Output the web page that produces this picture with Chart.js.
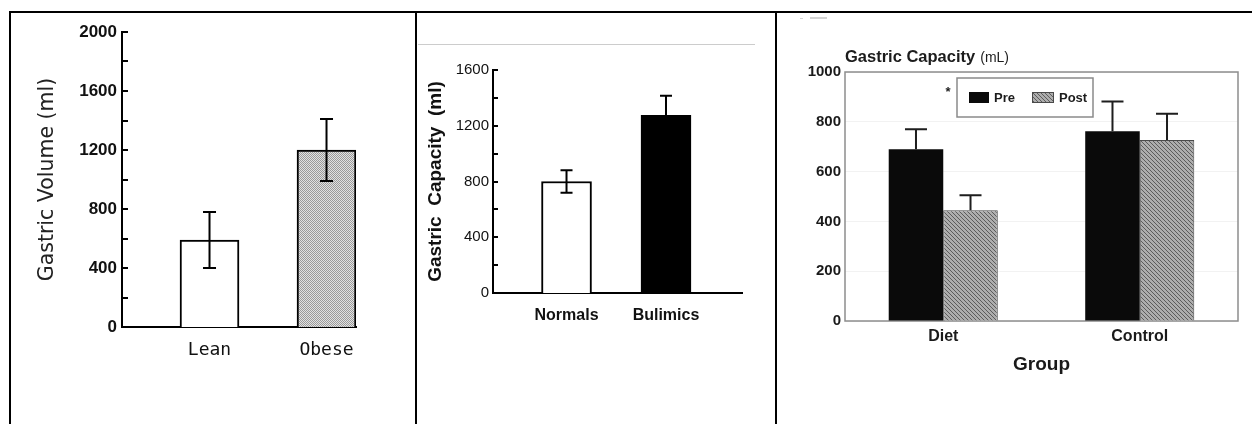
<!DOCTYPE html>
<html>
<head>
<meta charset="utf-8">
<title>Gastric volume and capacity</title>
<script src="https://cdn.jsdelivr.net/npm/chart.js@4.4.1/dist/chart.umd.min.js"></script>
<style>
  html, body { margin: 0; padding: 0; background: #fff; }
  #page { position: relative; width: 1252px; height: 424px; overflow: hidden; background: #fff; }
  canvas { position: absolute; }
  .rule { position: absolute; background: #000; }
  .faint { position: absolute; background: #d4d4d4; }
</style>
</head>
<body>
<div id="page">
  <canvas id="volumeChart" width="404" height="411" style="left:11px;top:13px;width:404px;height:411px"></canvas>
  <canvas id="capacityChart" width="358" height="411" style="left:417px;top:13px;width:358px;height:411px"></canvas>
  <canvas id="dietChart" width="475" height="411" style="left:777px;top:13px;width:475px;height:411px"></canvas>

  <!-- table frame around the three panels -->
  <div class="rule" style="left:9px;top:11px;width:1243px;height:2px"></div>
  <div class="rule" style="left:9px;top:11px;width:2px;height:413px"></div>
  <div class="rule" style="left:415px;top:11px;width:2px;height:413px"></div>
  <div class="rule" style="left:775px;top:11px;width:2px;height:413px"></div>
  <div class="faint" style="left:418px;top:44px;width:337px;height:1px;background:#cccccc"></div>
  <div class="faint" style="left:800px;top:18px;width:3px;height:1px"></div>
  <div class="faint" style="left:810px;top:17px;width:17px;height:2px"></div>
</div>

<script>
// ---- values ----
const volumeGroups = ['Lean', 'Obese'];
const volumeMeans = [590, 1200];
const volumeErrors = [190, 210];
const volumeTickLabels = [0, 400, 800, 1200, 1600, 2000];

const capacityGroups = ['Normals', 'Bulimics'];
const capacityMeans = [800, 1275];
const capacityErrors = [80, 140];
const capacityTickLabels = [0, 400, 800, 1200, 1600];

const dietGroups = ['Diet', 'Control'];
const preMeans = [690, 762];
const preErrors = [80, 120];
const postMeans = [445, 727];
const postErrors = [60, 105];
const dietTickLabels = [0, 200, 400, 600, 800, 1000];

Chart.defaults.font.family = "'Liberation Sans', Arial, sans-serif";

// ---- fill patterns ----
function makePattern(size, bg, ink, cells) {
  const c = document.createElement('canvas');
  c.width = size; c.height = size;
  const g = c.getContext('2d');
  g.fillStyle = bg; g.fillRect(0, 0, size, size);
  g.fillStyle = ink;
  cells.forEach(([x, y]) => g.fillRect(x, y, 1, 1));
  return g.createPattern(c, 'repeat');
}
const stipple = makePattern(2, '#e2e2e2', '#9a9a9a', [[0, 0], [1, 1]]);
const hatch = makePattern(4, '#adadad', '#5c5c5c', [[0, 0], [1, 1], [2, 2], [3, 3]]);

// ---- plugins ----
// short tick marks pointing into the plot from the y axis
const inwardTicks = {
  id: 'inwardTicks',
  afterDraw(chart, args, opts) {
    if (!opts.length) return;
    const ys = chart.scales.y, ctx = chart.ctx, x0 = chart.chartArea.left;
    ctx.save();
    ctx.strokeStyle = opts.color || '#000';
    ctx.lineWidth = opts.width || 2;
    ys.ticks.forEach(t => {
      const py = Math.round(ys.getPixelForValue(t.value));
      ctx.beginPath();
      ctx.moveTo(x0, py);
      ctx.lineTo(x0 + opts.length, py);
      ctx.stroke();
    });
    ctx.restore();
  }
};

// error bars read from each dataset's "errors" array
const errorBars = {
  id: 'errorBars',
  afterDatasetsDraw(chart, args, opts) {
    const ctx = chart.ctx, ys = chart.scales.y;
    ctx.save();
    ctx.strokeStyle = opts.color || '#000';
    ctx.lineWidth = opts.width || 2;
    ctx.lineCap = 'butt';
    chart.data.datasets.forEach((ds, di) => {
      if (!ds.errors) return;
      const meta = chart.getDatasetMeta(di);
      meta.data.forEach((bar, i) => {
        const d = ds.data[i];
        const v = (typeof d === 'object') ? d.y : d;
        const e = ds.errors[i];
        const x = bar.x;
        const top = ys.getPixelForValue(v + e);
        const bottom = opts.both ? ys.getPixelForValue(v - e) : bar.y;
        const half = opts.cap / 2;
        ctx.beginPath();
        ctx.moveTo(x, top); ctx.lineTo(x, bottom);
        ctx.moveTo(x - half, top); ctx.lineTo(x + half, top);
        if (opts.both) { ctx.moveTo(x - half, bottom); ctx.lineTo(x + half, bottom); }
        ctx.stroke();
      });
    });
    ctx.restore();
  }
};

// grey frame round the plot area
const plotFrame = {
  id: 'plotFrame',
  beforeDatasetsDraw(chart, args, opts) {
    const {left, top, right, bottom} = chart.chartArea;
    const ctx = chart.ctx;
    ctx.save();
    ctx.strokeStyle = opts.color;
    ctx.lineWidth = opts.width;
    ctx.strokeRect(left, top, right - left, bottom - top);
    ctx.restore();
  }
};

// heading with unit, boxed key and significance mark
const capacityDecor = {
  id: 'capacityDecor',
  afterDraw(chart) {
    const ctx = chart.ctx;
    const {left, top} = chart.chartArea;
    ctx.save();
    ctx.fillStyle = '#1c1c1c';
    ctx.textBaseline = 'alphabetic';
    ctx.textAlign = 'left';
    ctx.font = "bold 16.5px 'Liberation Sans', Arial, sans-serif";
    const head = 'Gastric Capacity';
    ctx.fillText(head, left, top - 10);
    const w = ctx.measureText(head).width;
    ctx.font = "14px 'Liberation Sans', Arial, sans-serif";
    ctx.fillText('(mL)', left + w + 5, top - 10);

    // significance mark
    ctx.font = "bold 13px 'Liberation Sans', Arial, sans-serif";
    ctx.textBaseline = 'middle';
    ctx.textAlign = 'center';
    ctx.fillText('*', left + 103, top + 20);

    // key
    const bx = left + 112, by = top + 6, bw = 136, bh = 39;
    ctx.fillStyle = '#ffffff';
    ctx.fillRect(bx, by, bw, bh);
    ctx.strokeStyle = '#8a8a8a';
    ctx.lineWidth = 1.5;
    ctx.strokeRect(bx, by, bw, bh);
    const items = [{x: bx + 12, sw: 20}, {x: bx + 75, sw: 22}];
    chart.data.datasets.forEach((ds, i) => {
      const it = items[i];
      ctx.fillStyle = ds.backgroundColor;
      ctx.fillRect(it.x, by + 14, it.sw, 11);
      if (ds.borderWidth) {
        ctx.strokeStyle = ds.borderColor; ctx.lineWidth = 1;
        ctx.strokeRect(it.x + 0.5, by + 14.5, it.sw - 1, 10);
      }
      ctx.fillStyle = '#1c1c1c';
      ctx.font = "bold 13px 'Liberation Sans', Arial, sans-serif";
      ctx.textAlign = 'left';
      ctx.textBaseline = 'middle';
      ctx.fillText(ds.label, it.x + it.sw + 5, by + 20);
    });
    ctx.restore();
  }
};

const quiet = {legend: {display: false}, tooltip: {enabled: false}};

// ---- left panel: gastric volume ----
new Chart(document.getElementById('volumeChart'), {
  type: 'bar',
  data: {
    datasets: [{
      data: volumeMeans.map((v, i) => ({x: i + 1, y: v})),
      errors: volumeErrors,
      backgroundColor: ['#ffffff', stipple],
      borderColor: '#000',
      borderWidth: 2,
      barThickness: 59
    }]
  },
  options: {
    responsive: false,
    animation: false,
    layout: {padding: {left: 0, right: 59, top: 19, bottom: 37}},
    plugins: Object.assign({}, quiet, {
      inwardTicks: {length: 6, width: 2, color: '#000'},
      errorBars: {both: true, cap: 13, width: 2, color: '#000'}
    }),
    scales: {
      x: {
        type: 'linear', min: 0.252, max: 2.252, offset: false,
        afterBuildTicks: s => { s.ticks = volumeGroups.map((_, i) => ({value: i + 1})); },
        afterFit: s => { s.height = 60; },
        grid: {display: false, drawTicks: false, offset: false},
        border: {display: true, color: '#000', width: 2},
        ticks: {
          callback: v => volumeGroups[v - 1],
          font: {family: "'DejaVu Sans Mono', monospace", size: 18},
          color: '#111', padding: 13, maxRotation: 0, autoSkip: false
        }
      },
      y: {
        min: 0, max: 2000,
        afterFit: s => { s.width = 111; },
        grid: {display: false, drawTicks: false},
        border: {display: true, color: '#000', width: 2},
        ticks: {
          stepSize: 200,
          callback: v => volumeTickLabels.includes(v) ? String(v) : '',
          font: {size: 17, weight: 'bold'}, color: '#111', padding: 5
        },
        title: {
          display: true, text: 'Gastric Volume (ml)',
          font: {family: "'DejaVu Sans', sans-serif", size: 20.5},
          color: '#222', padding: {top: 24, bottom: 0}
        }
      }
    }
  },
  plugins: [inwardTicks, errorBars]
});

// ---- middle panel: normals vs bulimics ----
new Chart(document.getElementById('capacityChart'), {
  type: 'bar',
  data: {
    datasets: [{
      data: capacityMeans.map((v, i) => ({x: i + 1, y: v})),
      errors: capacityErrors,
      backgroundColor: ['#ffffff', '#000000'],
      borderColor: '#000',
      borderWidth: 2,
      barThickness: 50
    }]
  },
  options: {
    responsive: false,
    animation: false,
    layout: {padding: {left: 0, right: 33, top: 57, bottom: 81}},
    plugins: Object.assign({}, quiet, {
      inwardTicks: {length: 5, width: 2, color: '#000'},
      errorBars: {both: true, cap: 12, width: 2, color: '#000'}
    }),
    scales: {
      x: {
        type: 'linear', min: 0.261, max: 2.764, offset: false,
        afterBuildTicks: s => { s.ticks = capacityGroups.map((_, i) => ({value: i + 1})); },
        afterFit: s => { s.height = 50; },
        grid: {display: false, drawTicks: false, offset: false},
        border: {display: true, color: '#000', width: 2},
        ticks: {
          callback: v => capacityGroups[v - 1],
          font: {size: 16, weight: 'bold'},
          color: '#111', padding: 13, maxRotation: 0, autoSkip: false
        }
      },
      y: {
        min: 0, max: 1600,
        afterFit: s => { s.width = 76; },
        grid: {display: false, drawTicks: false},
        border: {display: true, color: '#000', width: 2},
        ticks: {
          stepSize: 200,
          callback: v => capacityTickLabels.includes(v) ? String(v) : '',
          font: {size: 15}, color: '#111', padding: 4
        },
        title: {
          display: true, text: 'Gastric  Capacity  (ml)',
          font: {size: 19, weight: 'bold'},
          color: '#111', padding: {top: 7, bottom: 0}
        }
      }
    }
  },
  plugins: [inwardTicks, errorBars]
});

// ---- right panel: diet vs control, pre and post ----
new Chart(document.getElementById('dietChart'), {
  type: 'bar',
  data: {
    labels: dietGroups,
    datasets: [
      {label: 'Pre', data: preMeans, errors: preErrors,
       backgroundColor: '#0a0a0a', borderWidth: 0,
       categoryPercentage: 0.555, barPercentage: 1},
      {label: 'Post', data: postMeans, errors: postErrors,
       backgroundColor: hatch, borderColor: '#4a4a4a', borderWidth: 1,
       categoryPercentage: 0.555, barPercentage: 1}
    ]
  },
  options: {
    responsive: false,
    animation: false,
    layout: {padding: {left: 0, right: 14, top: 59, bottom: 33}},
    plugins: Object.assign({}, quiet, {
      errorBars: {both: false, cap: 22, width: 2, color: '#1e1e1e'},
      plotFrame: {color: '#8d8d8d', width: 1.5}
    }),
    scales: {
      x: {
        afterFit: s => { s.height = 70; },
        grid: {display: false, drawTicks: false},
        border: {display: false},
        ticks: {font: {size: 16, weight: 'bold'}, color: '#1a1a1a', padding: 6},
        title: {
          display: true, text: 'Group',
          font: {size: 19, weight: 'bold'}, color: '#1a1a1a',
          padding: {top: 0, bottom: 15}
        }
      },
      y: {
        min: 0, max: 1000,
        afterFit: s => { s.width = 68; },
        grid: {color: 'rgba(0,0,0,0.05)', drawTicks: false},
        border: {display: false},
        ticks: {
          stepSize: 200,
          callback: v => dietTickLabels.includes(v) ? String(v) : '',
          font: {size: 15, weight: 'bold'}, color: '#1a1a1a', padding: 4
        }
      }
    }
  },
  plugins: [plotFrame, errorBars, capacityDecor]
});
</script>
</body>
</html>
